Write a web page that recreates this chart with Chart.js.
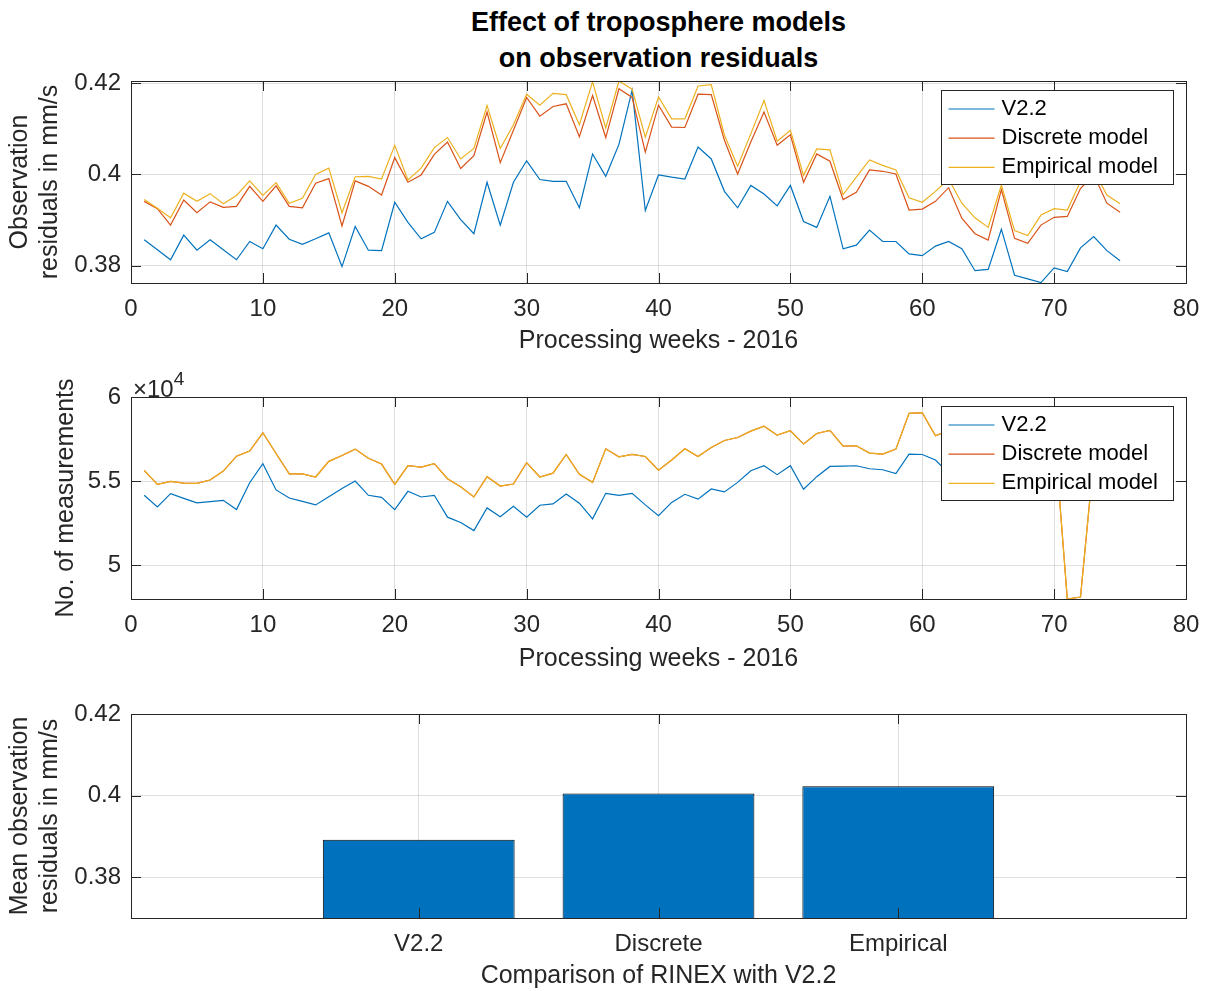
<!DOCTYPE html>
<html>
<head>
<meta charset="utf-8">
<script src="https://cdn.jsdelivr.net/npm/chart.js@4"></script>
<style>
  body { margin: 0; background: #fff; }
  #page { position: relative; width: 1207px; height: 991px; overflow: hidden; background: #fff; font-family: "Liberation Sans", Arial, sans-serif; color: #262626; }
  canvas { position: absolute; left: 0; }
  #title { position: absolute; left: 131px; width: 1055px; top: 4px; text-align: center; font-weight: bold; font-size: 27px; line-height: 36px; color: #000; }
  #expo { position: absolute; left: 133px; top: 367px; font-size: 24px; line-height: 30px; }
  #expo sup { font-size: 19px; position: relative; top: -3px; }
</style>
</head>
<body>
<div id="page">
  <div id="title">Effect of troposphere models<br>on observation residuals</div>
  <canvas id="resChart" width="1207" height="295" style="top:70px"></canvas>
  <canvas id="countChart" width="1207" height="313" style="top:370px"></canvas>
  <div id="expo">&times;10<sup>4</sup></div>
  <canvas id="barChart" width="1207" height="309" style="top:690px"></canvas>
</div>
<script>
// processing weeks
const weeks = [1,2,3,4,5,6,7,8,9,10,11,12,13,14,15,16,17,18,19,20,21,22,23,24,25,
  26,27,28,29,30,31,32,33,34,35,36,37,38,39,40,41,42,43,44,45,46,47,48,49,50,
  51,52,53,54,55,56,57,58,59,60,61,62,63,64,65,66,67,68,69,70,71,72,73,74,75];

// observation residuals (mm/s)
const v22Res = [0.3857,0.3835,0.3813,0.3867,0.3834,0.3857,0.3835,0.3813,0.3853,0.3837,
  0.3889,0.3858,0.3847,0.3859,0.3872,0.3798,0.3886,0.3834,0.3833,0.3939,
  0.3895,0.3859,0.3873,0.3941,0.3901,0.3870,0.3983,0.3889,0.3983,0.4030,
  0.3989,0.3985,0.3985,0.3927,0.4045,0.3996,0.4066,0.4185,0.3921,0.3999,
  0.3994,0.3990,0.4060,0.4034,0.3963,0.3927,0.3976,0.3957,0.3931,0.3976,
  0.3897,0.3884,0.3952,0.3837,0.3845,0.3878,0.3853,0.3853,0.3826,0.3822,
  0.3843,0.3853,0.3837,0.3789,0.3792,0.3880,0.3779,0.3771,0.3763,0.3795,
  0.3787,0.3839,0.3864,0.3833,0.3811];
const discreteRes = [0.3941,0.3925,0.3889,0.3944,0.3916,0.3940,0.3928,0.3930,0.3974,0.3941,
  0.3975,0.3930,0.3927,0.3981,0.3991,0.3887,0.3986,0.3974,0.3955,0.4037,
  0.3983,0.3999,0.4044,0.4071,0.4013,0.4041,0.4137,0.4026,0.4097,0.4169,
  0.4128,0.4149,0.4155,0.4083,0.4173,0.4081,0.4188,0.4169,0.4049,0.4152,
  0.4104,0.4103,0.4176,0.4175,0.4075,0.4001,0.4071,0.4137,0.4064,0.4087,
  0.3983,0.4045,0.4029,0.3945,0.3961,0.4010,0.4007,0.4001,0.3922,0.3924,
  0.3941,0.3971,0.3904,0.3870,0.3856,0.3967,0.3860,0.3849,0.3889,0.3906,
  0.3908,0.3969,0.4000,0.3937,0.3917];
const empiricalRes = [0.3945,0.3926,0.3905,0.3959,0.3941,0.3958,0.3936,0.3954,0.3986,0.3954,
  0.3982,0.3937,0.3948,0.4000,0.4014,0.3916,0.3995,0.3996,0.3990,0.4064,
  0.3988,0.4014,0.4059,0.4081,0.4034,0.4057,0.4151,0.4057,0.4109,0.4176,
  0.4152,0.4178,0.4175,0.4109,0.4203,0.4102,0.4205,0.4187,0.4082,0.4170,
  0.4122,0.4122,0.4194,0.4197,0.4086,0.4018,0.4089,0.4162,0.4073,0.4097,
  0.3998,0.4056,0.4054,0.3956,0.3994,0.4032,0.4020,0.4010,0.3949,0.3939,
  0.3963,0.3990,0.3937,0.3905,0.3884,0.3977,0.3877,0.3866,0.3911,0.3925,
  0.3922,0.3985,0.4010,0.3955,0.3936];

// number of measurements
const v22Count = [54150,53460,54250,53970,53700,53770,53850,53300,54900,56030,
  54470,53990,53790,53580,54070,54550,55000,54150,54030,53300,
  54390,54050,54150,52850,52530,52050,53400,52870,53500,52850,
  53560,53640,54230,53680,52750,54270,54150,54270,53580,52940,
  53730,54210,53920,54530,54350,54920,55610,55910,55380,55910,
  54510,55260,55870,55890,55910,55730,55670,55450,56600,56580,
  56250,55470,55700,56000,56200,55900,55800,56100,56300,56100,
  55900,56000,56200,56100,55900];
const empiricalCount = [55630,54800,54980,54880,54860,55060,55590,56480,56780,57870,
  56640,55430,55420,55240,56170,56520,56900,56350,56010,54800,
  55910,55830,56030,55140,54660,54050,55260,54700,54820,56090,
  55240,55470,56580,55400,54920,56920,56440,56580,56460,55650,
  56250,56920,56460,57000,57410,57590,57970,58260,57730,57990,
  57200,57830,58010,57080,57100,56660,56600,56900,59030,59070,
  57690,58000,57500,57700,57400,57600,57300,57500,57700,58100,
  47980,48100,56300,57000,56800];
const discreteCount = empiricalCount.slice();

// mean residuals per RINEX model
const barLabels = ['V2.2', 'Discrete', 'Empirical'];
const barMeans = [0.3892, 0.4005, 0.4023];

const seriesNames = ['V2.2', 'Discrete model', 'Empirical model'];
const colors = ['#0072BD', '#D95319', '#EDB120'];

Chart.defaults.font.family = '"Liberation Sans", Arial, sans-serif';
Chart.defaults.font.size = 24;
Chart.defaults.color = '#262626';
const gridColor = 'rgba(38,38,38,0.15)';
const axisColor = '#262626';

// MATLAB-like box with inward ticks + legend inside the axes
const matlabAxes = {
  id: 'matlabAxes',
  afterDraw(chart, args, opts) {
    const { ctx, chartArea: a, scales: { x, y } } = chart;
    ctx.save();
    ctx.strokeStyle = axisColor;
    ctx.lineWidth = 1;
    ctx.beginPath();
    x.ticks.forEach(t => {
      const px = Math.round(x.getPixelForValue(t.value)) + 0.5;
      ctx.moveTo(px, a.bottom); ctx.lineTo(px, a.bottom - 10);
      ctx.moveTo(px, a.top); ctx.lineTo(px, a.top + 10);
    });
    y.ticks.forEach(t => {
      const py = Math.round(y.getPixelForValue(t.value)) + 0.5;
      ctx.moveTo(a.left, py); ctx.lineTo(a.left + 10, py);
      ctx.moveTo(a.right, py); ctx.lineTo(a.right - 10, py);
    });
    ctx.stroke();
    ctx.strokeRect(Math.round(a.left) + 0.5, Math.round(a.top) + 0.5,
      Math.round(a.right - a.left), Math.round(a.bottom - a.top));

    if (opts.legend) {
      const w = 232, h = 94;
      const x0 = Math.round(a.right - 13 - w) + 0.5, y0 = Math.round(a.top + 9) + 0.5;
      ctx.fillStyle = '#fff';
      ctx.fillRect(x0, y0, w, h);
      ctx.strokeRect(x0, y0, w, h);
      ctx.font = '22px "Liberation Sans", Arial, sans-serif';
      ctx.textBaseline = 'middle';
      ctx.textAlign = 'left';
      chart.data.datasets.forEach((ds, i) => {
        const cy = y0 + 18.5 + i * 29.2;
        ctx.strokeStyle = ds.borderColor;
        ctx.lineWidth = 1.2;
        ctx.beginPath(); ctx.moveTo(x0 + 7, cy); ctx.lineTo(x0 + 53, cy); ctx.stroke();
        ctx.fillStyle = '#000';
        ctx.fillText(ds.label, x0 + 60, cy);
      });
    }
    ctx.restore();
  }
};

// later series drawn on top, like MATLAB's plot order
function lineSets(series) {
  return series.map((vals, i) => ({
    label: seriesNames[i],
    data: weeks.map((w, k) => ({ x: w, y: vals[k] })),
    borderColor: colors[i],
    backgroundColor: colors[i],
    borderWidth: 1.2,
    pointRadius: 0,
    tension: 0,
    fill: false,
    order: series.length - i
  }));
}

function xWeeks(axisHeight) {
  return {
    type: 'linear', min: 0, max: 80,
    ticks: { stepSize: 10, padding: 12, maxRotation: 0, color: axisColor },
    grid: { color: gridColor, drawTicks: false },
    border: { display: false },
    title: { display: true, text: 'Processing weeks - 2016', font: { size: 25, lineHeight: 1.2 },
      padding: { top: 0, bottom: 9 }, color: axisColor },
    afterFit(s) { s.height = axisHeight; s.paddingLeft = 0; s.paddingRight = 0; }
  };
}

function yAxis(min, max, tickVals, fmt, title, titlePad) {
  return {
    type: 'linear', min: min, max: max, beginAtZero: false,
    afterBuildTicks(s) { s.ticks = tickVals.map(v => ({ value: v })); },
    ticks: { padding: 10, callback: fmt, color: axisColor },
    grid: { color: gridColor, drawTicks: false },
    border: { display: false },
    title: { display: true, text: title, font: { size: 25, lineHeight: 1.2 },
      padding: { top: titlePad, bottom: 0 }, color: axisColor },
    afterFit(s) { s.width = 131; s.paddingTop = 0; s.paddingBottom = 0; }
  };
}

const resTicks = [0.38, 0.40, 0.42];
const countTicks = [50000, 55000, 60000];

new Chart(document.getElementById('resChart'), {
  type: 'line',
  data: { datasets: lineSets([v22Res, discreteRes, empiricalRes]) },
  options: {
    responsive: false, animation: false, devicePixelRatio: 1,
    layout: { padding: { top: 11, right: 21, left: 0, bottom: 0 } },
    plugins: { legend: { display: false }, tooltip: { enabled: false }, matlabAxes: { legend: true } },
    scales: {
      x: xWeeks(82),
      y: yAxis(0.3762, 0.4205, resTicks, v => String(+v.toFixed(2)),
        ['Observation', 'residuals in mm/s'], 5)
    }
  },
  plugins: [matlabAxes]
});

new Chart(document.getElementById('countChart'), {
  type: 'line',
  data: { datasets: lineSets([v22Count, discreteCount, empiricalCount]) },
  options: {
    responsive: false, animation: false, devicePixelRatio: 1,
    layout: { padding: { top: 27, right: 21, left: 0, bottom: 0 } },
    plugins: { legend: { display: false }, tooltip: { enabled: false }, matlabAxes: { legend: true } },
    scales: {
      x: xWeeks(84),
      y: yAxis(47980, 60000, countTicks, v => String(v / 10000), 'No. of measurements', 51)
    }
  },
  plugins: [matlabAxes]
});

new Chart(document.getElementById('barChart'), {
  type: 'bar',
  data: {
    datasets: [{
      label: 'Mean residuals',
      data: barMeans.map((m, i) => ({ x: i + 1, y: m })),
      backgroundColor: '#0072BD',
      borderColor: '#000000',
      borderWidth: 1,
      barPercentage: 0.8,
      categoryPercentage: 1
    }]
  },
  options: {
    responsive: false, animation: false, devicePixelRatio: 1,
    layout: { padding: { top: 24, right: 21, left: 0, bottom: 0 } },
    plugins: { legend: { display: false }, tooltip: { enabled: false }, matlabAxes: { legend: false } },
    scales: {
      x: {
        type: 'linear', min: -0.2, max: 4.2, offset: false,
        afterBuildTicks(s) { s.ticks = barLabels.map((l, i) => ({ value: i + 1 })); },
        ticks: { padding: 12, callback: v => barLabels[v - 1], color: axisColor },
        grid: { color: gridColor, drawTicks: false, offset: false },
        border: { display: false },
        title: { display: true, text: 'Comparison of RINEX with V2.2', font: { size: 25, lineHeight: 1.2 },
          padding: { top: 0, bottom: 8 }, color: axisColor },
        afterFit(s) { s.height = 81; s.paddingLeft = 0; s.paddingRight = 0; }
      },
      y: yAxis(0.37, 0.42, resTicks, v => String(+v.toFixed(2)),
        ['Mean observation', 'residuals in mm/s'], 5)
    }
  },
  plugins: [matlabAxes]
});
</script>
</body>
</html>
